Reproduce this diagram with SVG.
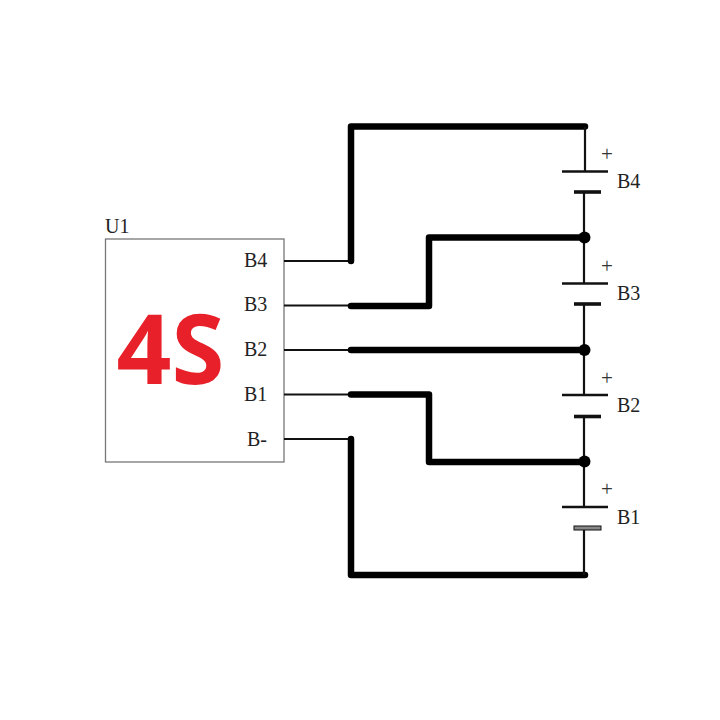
<svg xmlns="http://www.w3.org/2000/svg" width="720" height="720" viewBox="0 0 720 720">
<style>
.t{font-family:"Liberation Serif","Times New Roman",serif;font-size:20px;fill:#222}
.p{font-family:"Liberation Serif","Times New Roman",serif;font-size:21px;fill:#333}
.thin{fill:none;stroke:#111;stroke-width:1.8}
.thick{fill:none;stroke:#000;stroke-width:6.500;stroke-linejoin:round;stroke-linecap:round}
.lead{fill:none;stroke:#111;stroke-width:2.2}
.long{fill:none;stroke:#111;stroke-width:2.6}
.short{fill:none;stroke:#111;stroke-width:3.6}
.dot{fill:#000}
</style>
<rect width="720" height="720" fill="#fff"/>
<g id="U1">
<rect x="105.500" y="239" width="178.500" height="223" fill="#fff" stroke="#777" stroke-width="1.300"/>
<text class="t" x="105" y="233">U1</text>
<text x="116.500" y="384" font-family="'Open Sans',sans-serif" font-weight="700" font-size="96" fill="#e8202a">4S</text>
<text class="t" x="244" y="267">B4</text>
<text class="t" x="244" y="311">B3</text>
<text class="t" x="244" y="356">B2</text>
<text class="t" x="244" y="401">B1</text>
<text class="t" x="247" y="446">B-</text>
</g>
<g id="connectors">
<path class="thin" d="M284 261H351M284 305.500H351M284 350H351M284 394.500H351M284 439H351"/>
<path class="thick" d="M351 261V126.500H585"/>
<path class="thick" d="M351 306H429V237.500H585"/>
<path class="thick" d="M351 350H585"/>
<path class="thick" d="M351 394.500H429V462H585"/>
<path class="thick" d="M351 439V575H585"/>
<path class="lead" d="M585 127V172M584 192V283.500M584 304V395M584 416V507M584 528V575"/>
</g>
<g id="B4">
<path class="long" d="M562 171.500H608"/><path class="short" d="M574 192H601"/>
<text class="p" x="601" y="161">+</text><text class="t" x="617" y="188">B4</text>
</g>
<g id="B3">
<path class="long" d="M562 283.500H608"/><path class="short" d="M574 304H601"/>
<text class="p" x="601" y="273">+</text><text class="t" x="617" y="300">B3</text>
</g>
<g id="B2">
<path class="long" d="M562 395H608"/><path class="short" d="M574 416.500H601"/>
<text class="p" x="601" y="385">+</text><text class="t" x="617" y="412">B2</text>
</g>
<g id="B1">
<path class="long" d="M562 507H608"/>
<rect x="574" y="526" width="27" height="4" fill="#888" stroke="#111" stroke-width="1"/>
<text class="p" x="601" y="496">+</text><text class="t" x="617" y="524">B1</text>
</g>
<g id="junctions">
<circle class="dot" cx="584.500" cy="237.500" r="6"/>
<circle class="dot" cx="584.500" cy="350" r="6"/>
<circle class="dot" cx="584.500" cy="461.500" r="6"/>
</g>
</svg>
